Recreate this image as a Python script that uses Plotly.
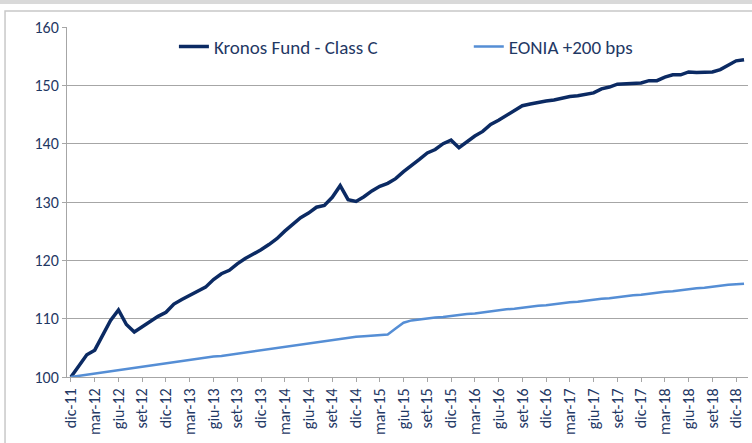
import plotly.graph_objects as go

month_names = ["gen", "feb", "mar", "apr", "mag", "giu", "lug", "ago", "set", "ott", "nov", "dic"]
categories = ["dic-11"] + [f"{m}-{y:02d}" for y in range(12, 19) for m in month_names] + ["gen-19"]

kronos = [
    100.0, 102.0, 103.8, 104.6, 107.1, 109.7, 111.5, 109.0, 107.7, 108.6,
    109.4, 110.4, 111.1, 112.5, 113.3, 114.0, 114.6, 115.4, 116.7, 117.7,
    118.3, 119.4, 120.3, 121.0, 121.8, 122.7, 123.7, 125.0, 126.2, 127.3,
    128.1, 129.1, 129.4, 130.8, 132.8, 130.4, 130.1, 130.9, 131.9, 132.7,
    133.2, 134.0, 135.2, 136.2, 137.3, 138.4, 139.0, 140.0, 140.6, 139.3,
    140.3, 141.3, 142.1, 143.3, 144.0, 144.8, 145.7, 146.5, 146.8, 147.1,
    147.3, 147.5, 147.8, 148.1, 148.2, 148.4, 148.7, 149.4, 149.7, 150.2,
    150.3, 150.35, 150.4, 150.8, 150.8, 151.4, 151.8, 151.8, 152.3, 152.2,
    152.2, 152.3, 152.7, 153.4, 154.2, 154.4,
]

eonia = [
    100.0, 100.2, 100.4, 100.6, 100.8, 101.0, 101.2, 101.3, 101.5, 101.7,
    101.9, 102.1, 102.3, 102.5, 102.7, 102.9, 103.1, 103.3, 103.5, 103.6,
    103.8, 104.0, 104.2, 104.4, 104.6, 104.8, 105.0, 105.2, 105.4, 105.6,
    105.8, 106.0, 106.2, 106.4, 106.6, 106.8, 106.9, 107.0, 107.1, 107.2,
    107.3, 108.3, 109.3, 109.7, 109.9, 110.0, 110.2, 110.3, 110.5, 110.6,
    110.8, 110.9, 111.1, 111.3, 111.4, 111.6, 111.7, 111.9, 112.0, 112.2,
    112.3, 112.5, 112.6, 112.8, 112.9, 113.1, 113.2, 113.4, 113.5, 113.7,
    113.8, 114.0, 114.1, 114.3, 114.4, 114.6, 114.7, 114.9, 115.0, 115.2,
    115.3, 115.5, 115.6, 115.8, 115.9, 116.0,
]

tick_labels = categories[:-1:3]
y_ticks = [100, 110, 120, 130, 140, 150, 160]

NAVY = "#0b2a63"
TEXT = "#1f3864"
LIGHT = "#558ed5"
GRID = "#a6a6a6"
FONT = "Carlito, Calibri, Lato, sans-serif"

fig = go.Figure()
fig.add_trace(go.Scatter(x=categories, y=kronos, mode="lines", name="Kronos Fund - Class C",
                         line=dict(color=NAVY, width=3.5), legend="legend"))
fig.add_trace(go.Scatter(x=categories, y=eonia, mode="lines", name="EONIA +200 bps",
                         line=dict(color=LIGHT, width=2.5), legend="legend2"))

legend_common = dict(orientation="h", xanchor="left", yanchor="middle", y=0.944,
                     bgcolor="rgba(0,0,0,0)", font=dict(size=19, color=TEXT, family=FONT),
                     itemwidth=30)

fig.update_layout(
    width=752, height=443,
    margin=dict(l=67, r=4, t=27, b=66),
    paper_bgcolor="white", plot_bgcolor="white",
    font=dict(family=FONT, color=TEXT, size=16),
    showlegend=True,
    legend=dict(x=0.157, **legend_common),
    legend2=dict(x=0.59, **legend_common),
    xaxis=dict(type="category", range=[-0.5, 85.5], tickmode="array",
               tickvals=tick_labels, ticktext=tick_labels, tickangle=-90,
               showgrid=False, showline=True, linecolor=GRID, linewidth=1,
               ticks="outside", ticklen=4, tickcolor=GRID,
               tickfont=dict(size=16, color=TEXT, family=FONT), zeroline=False),
    yaxis=dict(range=[100, 160], tickmode="array", tickvals=y_ticks,
               showgrid=True, gridcolor=GRID, gridwidth=1,
               showline=True, linecolor=GRID, linewidth=1,
               ticks="outside", ticklen=4, tickcolor=GRID,
               tickfont=dict(size=16, color=TEXT, family=FONT), zeroline=False),
    shapes=[
        dict(type="rect", xref="paper", yref="paper", x0=-0.2, x1=1.2, y0=1.066, y1=1.2,
             fillcolor="#d9d9d9", line=dict(width=0), layer="below"),
        dict(type="rect", xref="paper", yref="paper", x0=-0.091, x1=1.05, y0=-0.3, y1=1.0457,
             fillcolor="rgba(0,0,0,0)", line=dict(color="#c8c8c8", width=1.5), layer="below"),
    ],
)

fig.write_html("out.html", config={"displayModeBar": False},
               post_script="document.body.style.margin='0';")
